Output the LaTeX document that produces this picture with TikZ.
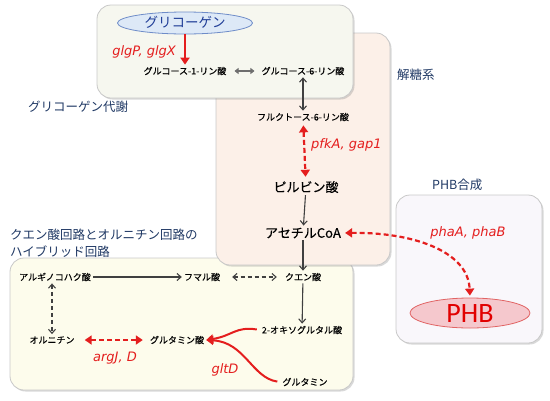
\documentclass[tikz,border=0pt]{standalone}
\usepackage{fontspec}
\setmainfont{Noto Sans CJK JP}
\newfontfamily\metfont[FakeBold=0.3]{Noto Sans CJK JP}
\newfontfamily\genefont{DejaVu Sans}
\newfontfamily\phbfont{Carlito}
\usepackage{tikz}
\usetikzlibrary{arrows.meta, positioning, shapes.geometric, shadows}
\definecolor{navy}{RGB}{31,56,100}
\definecolor{pathred}{RGB}{228,30,30}
\definecolor{arrowgray}{RGB}{64,64,64}
\definecolor{lightgray}{RGB}{110,110,110}
\definecolor{boxline}{RGB}{200,200,200}
\definecolor{glycfill}{RGB}{246,247,239}
\definecolor{sugarfill}{RGB}{252,240,232}
\definecolor{tcafill}{RGB}{253,252,236}
\definecolor{phbbox}{RGB}{249,247,251}
\definecolor{glycblue}{RGB}{221,233,247}
\definecolor{glycline}{RGB}{110,140,200}
\definecolor{glyctext}{RGB}{30,60,150}
\definecolor{phbfill}{RGB}{245,200,205}
\definecolor{phbline}{RGB}{225,100,100}
\definecolor{phbtext}{RGB}{225,0,0}

\begin{document}
\begin{tikzpicture}[x=1pt,y=-1pt,
    region/.style={draw=boxline,rounded corners=14pt,line width=0.8pt,
      drop shadow={shadow xshift=1.5pt,shadow yshift=-1.5pt,opacity=.3}},
    met/.style={font=\metfont\fontsize{9}{10}\selectfont,inner sep=2pt},
    bigmet/.style={font=\metfont\fontsize{13}{14}\selectfont,inner sep=2pt},
    title/.style={font=\fontsize{12.5}{16.5}\selectfont,text=navy,anchor=west,
      align=left,inner sep=0pt},
    gene/.style={font=\genefont\itshape\fontsize{13}{14}\selectfont,text=pathred,inner sep=1pt},
    arrow/.style={-{Straight Barb[length=4pt,width=7pt]},arrowgray,line width=1.1pt},
    dbl/.style={{Straight Barb[length=4pt,width=7pt]}-{Straight Barb[length=4pt,width=7pt]},
      arrowgray,line width=1.1pt},
    dashdbl/.style={dbl,dash pattern=on 4pt off 3pt},
    redarrow/.style={-{Triangle[length=7pt,width=9pt]},pathred,line width=2pt},
    reddbl/.style={{Triangle[length=7pt,width=9pt]}-{Triangle[length=7pt,width=9pt]},
      pathred,line width=2.2pt,dash pattern=on 5pt off 3pt}
  ]
  \useasboundingbox (0,0) rectangle (550,400);

  % boxes
  \path[region,fill=tcafill] (10,258) rectangle (353,390);
  \path[region,fill=sugarfill] (216,33) rectangle (390,265);
  \path[region,fill=glycfill] (97,5) rectangle (353,98);
  \path[region,fill=phbbox] (396,195) rectangle (542,343);

  % titles
  \node[title] (glyctitle) at (28,107) {グリコーゲン代謝};
  \node[title] (sugartitle) at (397,75) {解糖系};
  \node[title] (phbtitle) at (432,185) {PHB合成};
  \node[title] (tcatitle) at (10,243) {クエン酸回路とオルニチン回路の\\ハイブリッド回路};

  % glycogen / glycolysis
  \node[ellipse,draw=glycline,fill=glycblue,line width=0.8pt,minimum width=135pt,
    minimum height=22pt,inner sep=0pt,text height=10pt,text depth=1pt,text=glyctext,
    font=\fontsize{13.5}{14}\selectfont] (glyc) at (185,23) {グリコーゲン};
  \node[met] (g1p) at (185,71) {グルコース-1-リン酸};
  \node[met] (g6p) at (303,71) {グルコース-6-リン酸};
  \node[met] (f6p) at (303,117) {フルクトース-6-リン酸};
  \node[bigmet] (pyr) at (306,187) {ピルビン酸};
  \node[bigmet] (acoa) at (303,233) {アセチルCoA};

  \draw[redarrow] (glyc.south) -- (g1p.north);
  \node[gene,anchor=east] (glg) at (177,52) {glgP, glgX};
  \draw[{Triangle[length=4pt,width=6pt]}-{Triangle[length=4pt,width=6pt]},lightgray,
    line width=1.8pt,shorten <=6pt,shorten >=5pt] (g1p) -- (g6p);
  \draw[dbl] (g6p) -- (f6p);
  \draw[reddbl,shorten <=2pt,shorten >=2pt] (f6p) -- (pyr);
  \node[gene,anchor=west] (pfk) at (310,145) {pfkA, gap1};
  \draw[arrow] (pyr) -- (acoa);

  % TCA / ornithine
  \node[met] (arsuc) at (55,277) {アルギノコハク酸};
  \node[met] (fum) at (202,277) {フマル酸};
  \node[met] (cit) at (303,277) {クエン酸};
  \node[met] (oxo) at (302,330) {2-オキソグルタル酸};
  \node[met] (orn) at (52,340) {オルニチン};
  \node[met] (glu) at (177,340) {グルタミン酸};
  \node[met] (gln) at (305,382) {グルタミン};

  \draw[arrow] (acoa) -- (cit);
  \draw[arrow] (arsuc) -- (fum);
  \draw[dashdbl,shorten <=10pt,shorten >=6pt] (fum) -- (cit);
  \draw[arrow] (cit) -- (oxo);
  \draw[dashdbl] (arsuc.south -| orn) -- (orn);
  \draw[reddbl,shorten <=8pt,shorten >=5pt] (orn) -- (glu);
  \node[gene] (arg) at (115,358) {argJ, D};
  \draw[redarrow,shorten <=3pt] (oxo.west) .. controls (236,326) and (232,336) .. (glu.east);
  \draw[redarrow,shorten <=3pt] (gln.west) .. controls (252,378) and (245,342) .. (glu.east);
  \node[gene] (glt) at (225,370) {gltD};

  % PHB
  \node[ellipse,draw=phbline,fill=phbfill,line width=0.8pt,minimum width=120pt,
    minimum height=30pt,inner sep=0pt,text height=18pt,text depth=0pt,text=phbtext,
    font=\phbfont\fontsize{28}{28}\selectfont] (phb) at (470,313) {PHB};
  \node[gene] (pha) at (468,233) {phaA, phaB};
  \draw[reddbl,shorten <=2pt,shorten >=2pt] (acoa.east) .. controls (410,232) and (468,250) .. (phb.north);
\end{tikzpicture}
\end{document}
